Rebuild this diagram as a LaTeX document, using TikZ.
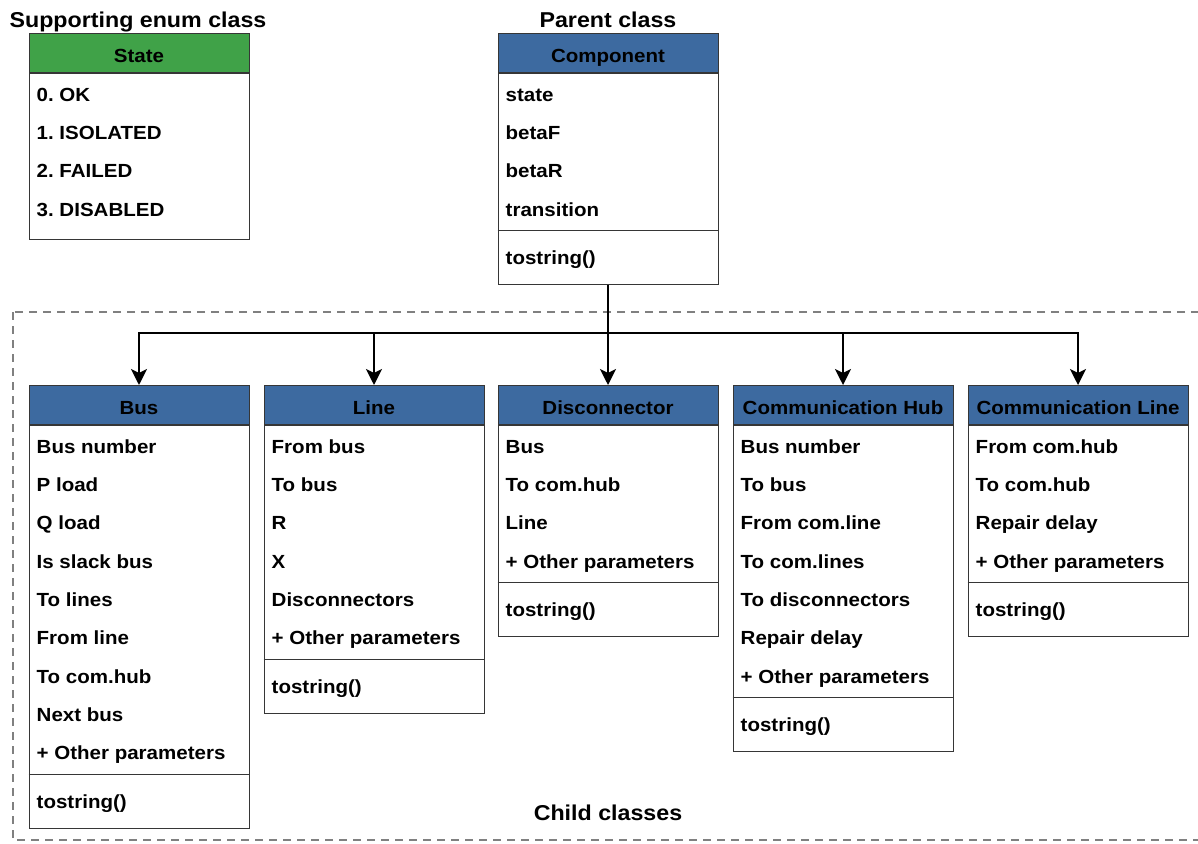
\documentclass[tikz,border=0pt]{standalone}
\usepackage{fontspec}
\setmainfont{Liberation Sans}[FakeStretch=1.08]
\usetikzlibrary{calc,arrows.meta}
\definecolor{hdrblue}{RGB}{61,106,160}
\definecolor{hdrgreen}{RGB}{64,162,72}
\definecolor{boxline}{RGB}{54,54,54}
\definecolor{dashgray}{RGB}{128,128,128}
\tikzset{
  hdr/.style={draw=boxline,line width=1pt,minimum width=220pt,minimum height=38.5pt,inner sep=0pt,anchor=north,text height=18.6pt,text depth=0pt,font=\fontsize{19}{22}\selectfont\bfseries},
  attr/.style={anchor=west,inner sep=0pt,text height=13.6pt,text depth=0pt,font=\fontsize{19}{22}\selectfont\bfseries},
  bodybox/.style={draw=boxline,line width=1pt,minimum width=220pt,inner sep=0pt,anchor=north},
  sepline/.style={draw=boxline,line width=1pt},
  title/.style={font=\fontsize{21.5}{25}\selectfont\bfseries,inner sep=0pt,text height=15.4pt,text depth=0pt},
  conn/.style={line width=2.6pt,-{Stealth[length=16pt,width=16pt,inset=4pt]}},
  trunk/.style={line width=2.6pt},
  grouprect/.style={draw=dashgray,line width=2pt,dash pattern=on 8pt off 6pt}
}
\newcommand\umlclass[7]{%
  \node[hdr,fill=#5] (#1) at (#2,#3) {#4};
  \foreach \a [count=\i] in {#6} {
    \node[attr] (#1-\i) at ($(#1.south west)+(8,22+38.3*\i-38.3)$) {\a};
    \xdef\nattr{\i}}
  \ifx&#7&
    \pgfmathsetmacro\bodyh{\nattr*38.3+13.5}
    \node[bodybox,minimum height=\bodyh pt] (#1-body) at (#1.south) {};
  \else
    \pgfmathsetmacro\bodyh{\nattr*38.3+5.2+53.5}
    \pgfmathsetmacro\sepy{\nattr*38.3+5.2}
    \node[bodybox,minimum height=\bodyh pt] (#1-body) at (#1.south) {};
    \draw[sepline] ($(#1.south west)+(0,\sepy)$) -- ($(#1.south east)+(0,\sepy)$);
    \node[attr] (#1-m) at ($(#1.south west)+(8,\sepy+27)$) {#7};
  \fi
}
\begin{document}
\frenchspacing
\begin{tikzpicture}[x=1pt,y=-1pt]
\useasboundingbox (0,0) rectangle (1198,843);
\draw[grouprect] (13,312) rectangle (1205,840);
\node[title] (ttlenum) at (138,19.5) {Supporting enum class};
\node[title] (ttlparent) at (608,19.5) {Parent class};
\node[title] (ttlchild) at (608,812.5) {Child classes};
\umlclass{state}{139}{33}{State}{hdrgreen}{0. OK,1. ISOLATED,2. FAILED,3. DISABLED}{}
\umlclass{comp}{608}{33}{Component}{hdrblue}{state,betaF,betaR,transition}{tostring()}
\umlclass{bus}{139}{385}{Bus}{hdrblue}{Bus number,P load,Q load,Is slack bus,To lines,From line,To com.hub,Next bus,+ Other parameters}{tostring()}
\umlclass{line}{374}{385}{Line}{hdrblue}{From bus,To bus,R,X,Disconnectors,+ Other parameters}{tostring()}
\umlclass{disc}{608}{385}{Disconnector}{hdrblue}{Bus,To com.hub,Line,+ Other parameters}{tostring()}
\umlclass{hub}{843}{385}{Communication Hub}{hdrblue}{Bus number,To bus,From com.line,To com.lines,To disconnectors,Repair delay,+ Other parameters}{tostring()}
\umlclass{cline}{1078}{385}{Communication Line}{hdrblue}{From com.hub,To com.hub,Repair delay,+ Other parameters}{tostring()}
\coordinate (junction) at (608,333);
\draw[trunk] (comp-body.south) -- (junction);
\foreach \c in {bus,line,disc,hub,cline}{
  \draw[conn] (junction) -| (\c.north);
}
\end{tikzpicture}
\end{document}
